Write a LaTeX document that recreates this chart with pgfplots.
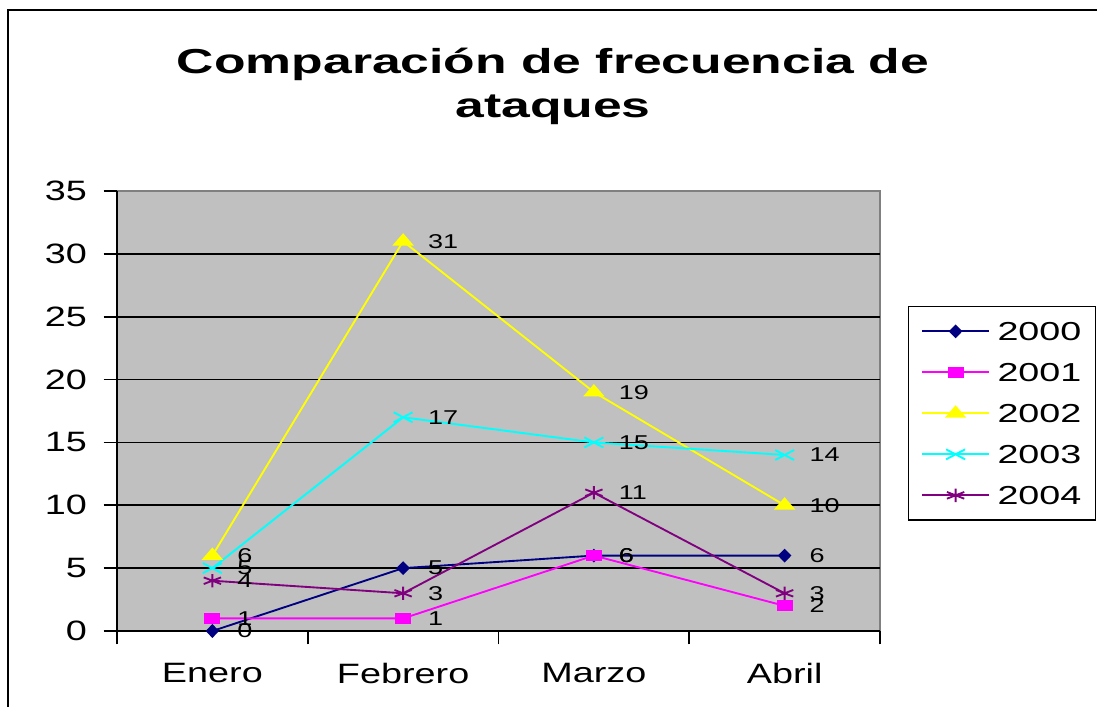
\documentclass[border=0pt]{standalone}
\usepackage{fontspec}
\usepackage{pgfplots}
\pgfplotsset{compat=1.18}
\setmainfont{Liberation Sans}[FakeStretch=1.35]
\newfontfamily\titlefont{Liberation Sans}[FakeStretch=1.49]
\newfontfamily\legfont{Liberation Sans}[FakeStretch=1.45]
\definecolor{bggray}{HTML}{C0C0C0}
\definecolor{cnavy}{HTML}{000080}
\definecolor{cmag}{HTML}{FF00FF}
\definecolor{cyel}{HTML}{FFFF00}
\definecolor{ccyan}{HTML}{00FFFF}
\definecolor{cpurp}{HTML}{800080}
\begin{document}
\begin{tikzpicture}[x=0.75pt,y=0.75pt]
\useasboundingbox (0,0) rectangle (1097,707);
\fill[white] (0,0) rectangle (1097,707);
\draw[line width=1.2pt] (8,697) -- (1130,697) -- (1130,-30) -- (8,-30) -- cycle;
\node[font=\titlefont\bfseries\fontsize{26}{33}\selectfont, align=center] at (553,707-86) {Comparación de frecuencia de\\ataques};
\begin{axis}[
  at={(87.75pt,57pt)}, anchor=south west, scale only axis,
  width=572.25pt, height=330pt,
  xmin=-0.5, xmax=3.5, ymin=0, ymax=35,
  clip=false,
  /pgf/number format/assume math mode=true,
  xtick={-0.5,0.5,1.5,2.5,3.5}, xticklabels={},
  extra x ticks={0,1,2,3},
  extra x tick labels={Enero,Febrero,Marzo,Abril},
  extra x tick style={major tick length=0pt, grid=none,
     tick label style={yshift=-21pt}},
  ytick={0,5,...,30},
  extra y ticks={35}, extra y tick style={grid=none},
  ymajorgrids,
  major grid style={black, line width=1.2pt},
  tick align=outside, major tick length=10pt,
  tick style={black, line width=1.2pt},
  axis x line*=bottom, axis y line*=left,
  axis line style={black, line width=1.4pt},
  axis background/.style={fill=bggray, draw=gray, line width=1pt},
  tick label style={font=\fontsize{21}{25}\selectfont},
  yticklabel style={xshift=-9pt},
  nodes near coords,
  every node near coord/.append style={anchor=west, xshift=18pt, inner sep=0pt, black, font=\fontsize{15}{18}\selectfont},
  legend style={at={(1.0367,0.7386)}, anchor=north west, draw=black, line width=1pt, fill=white,
     font=\legfont\fontsize{19.5}{22}\selectfont,
     inner xsep=9.5pt, inner ysep=10.5pt, row sep=14.75pt, column sep=4.75pt,
     nodes={inner sep=1pt, text height=14pt, text depth=0pt}},
  legend cell align=left,
  legend image code/.code={\draw[mark repeat=2,mark phase=2,#1] plot coordinates {(0pt,0pt) (25pt,0pt) (50pt,0pt)};},
]
\addplot[cnavy, line width=1.4pt, mark=diamond*, mark size=4.2pt, mark options={solid, xscale=1.3}] coordinates {(0,0) (1,5) (2,6) (3,6)};
\addlegendentry{2000\hspace{20pt}}
\addplot[cmag, line width=1.4pt, mark=square*, mark size=3.5pt, mark options={solid, xscale=1.5}] coordinates {(0,1) (1,1) (2,6) (3,2)};
\addlegendentry{2001}
\addplot[cyel, line width=1.4pt, mark=triangle*, mark size=5pt, mark options={solid, xscale=1.5}] coordinates {(0,6) (1,31) (2,19) (3,10)};
\addlegendentry{2002}
\addplot[ccyan, line width=1.4pt, mark=x, mark size=5.3pt, mark options={solid, xscale=1.9}] coordinates {(0,5) (1,17) (2,15) (3,14)};
\addlegendentry{2003}
\addplot[cpurp, line width=1.4pt, mark=asterisk, mark size=5pt, mark options={solid, xscale=1.5}] coordinates {(0,4) (1,3) (2,11) (3,3)};
\addlegendentry{2004}
\end{axis}
\end{tikzpicture}
\end{document}
